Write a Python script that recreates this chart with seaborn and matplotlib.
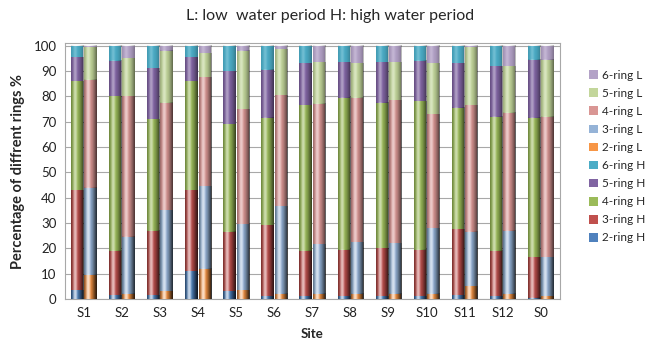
import numpy as np
import pandas as pd
import matplotlib
matplotlib.use("Agg")
import matplotlib.pyplot as plt
from matplotlib.patches import Patch
import seaborn as sns

sites = ["S1", "S2", "S3", "S4", "S5", "S6", "S7", "S8", "S9", "S10", "S11", "S12", "S0"]
rings = ["2-ring", "3-ring", "4-ring", "5-ring", "6-ring"]

# high water period (H), percentage per ring
h_2ring = [3.5, 1.5, 1.5, 11, 3, 1, 1, 1, 1, 1, 1.5, 1, 0.5]
h_3ring = [39.5, 17.5, 25.5, 32, 23.5, 28, 18, 18.5, 19, 18.5, 26, 18, 16]
h_4ring = [43, 61, 44, 43, 42.5, 42.5, 57.5, 60, 57.5, 58.5, 48, 53, 55]
h_5ring = [9.5, 14, 20, 9.5, 21, 19, 16.5, 14, 16, 16, 17.5, 20, 23]
h_6ring = [4.5, 6, 9, 4.5, 10, 9.5, 7, 6.5, 6.5, 6, 7, 8, 5.5]

# low water period (L), percentage per ring
l_2ring = [9.5, 2, 3, 12, 3.5, 2, 2, 2, 2, 2, 5, 2, 1]
l_3ring = [34.5, 22.5, 32, 32.5, 26, 34.5, 19.5, 20.5, 20, 26, 21.5, 25, 15.5]
l_4ring = [42.5, 55.5, 42.5, 43, 45.5, 44, 55.5, 57, 56.5, 45, 50, 46.5, 55.5]
l_5ring = [13, 15, 20.5, 9.5, 23, 18, 16.5, 13.5, 15, 20, 23, 18.5, 22.5]
l_6ring = [0.5, 5, 2, 3, 2, 1.5, 6.5, 7, 6.5, 7, 0.5, 8, 5.5]

colors_h = ["#4F81BD", "#C0504D", "#9BBB59", "#8064A2", "#4BACC6"]
colors_l = ["#F79646", "#95B3D7", "#D99694", "#C3D69B", "#B3A2C7"]

h_vals = [h_2ring, h_3ring, h_4ring, h_5ring, h_6ring]
l_vals = [l_2ring, l_3ring, l_4ring, l_5ring, l_6ring]

rows = []
for ri, ring in enumerate(rings):
    for si, s in enumerate(sites):
        rows.append({"site": s, "period": "H", "ring": ring, "order": ri, "value": h_vals[ri][si]})
        rows.append({"site": s, "period": "L", "ring": ring, "order": ri, "value": l_vals[ri][si]})
df = pd.DataFrame(rows).sort_values(["site", "period", "order"])
df["cum"] = df.groupby(["site", "period"])["value"].cumsum()

sns.set_theme(style="white")
plt.rcParams["font.family"] = ["Lato", "DejaVu Sans"]

fig = plt.figure(figsize=(6.54, 3.48), dpi=100)
ax = fig.add_axes([0.099, 0.141, 0.757, 0.735])

for ri in range(len(rings) - 1, -1, -1):
    sub = df[df["order"] == ri]
    sns.barplot(data=sub, x="site", y="cum", hue="period", order=sites,
                hue_order=["H", "L"],
                palette={"H": colors_h[ri], "L": colors_l[ri]},
                width=0.70, gap=0.08, dodge=True, ax=ax, legend=False,
                saturation=1, edgecolor="none", zorder=3)

# cylinder-like shading over every bar
t = np.linspace(0, 1, 64)
dark = np.zeros((1, t.size, 4))
dark[..., 3] = 0.30 * ((t - 0.38) / 0.62) ** 2
light = np.ones((1, t.size, 4))
light[..., 3] = 0.22 * np.exp(-((t - 0.32) / 0.14) ** 2)
for p in list(ax.patches):
    x0, y0 = p.get_x(), p.get_y()
    w, h = p.get_width(), p.get_height()
    if h <= 0:
        continue
    ext = [x0, x0 + w, y0, y0 + h]
    ax.imshow(dark, extent=ext, aspect="auto", zorder=4, interpolation="bilinear")
    ax.imshow(light, extent=ext, aspect="auto", zorder=4, interpolation="bilinear")

ax.set_ylim(0, 101)
ax.set_xlim(-0.5, len(sites) - 0.5)
ax.set_aspect("auto")
ax.set_yticks(np.arange(0, 101, 10))
ax.yaxis.grid(True, color="#a8a8a8", linewidth=0.8, zorder=0)
ax.set_axisbelow(True)
for sp in ax.spines.values():
    sp.set_color("#a8a8a8")
    sp.set_linewidth(0.8)
ax.tick_params(axis="both", length=0, labelsize=9.5, colors="#222222", pad=6)

ax.set_xlabel("Site", fontsize=9.5, fontweight="bold", labelpad=6)
ax.set_ylabel("Percentage of diffrent rings %", fontsize=10.5, fontweight="bold", labelpad=6)
fig.text(0.505, 0.955, "L: low  water period H: high water period", ha="center", va="center", fontsize=11.5)

handles = []
labels = []
for ri in range(len(rings) - 1, -1, -1):
    handles.append(Patch(facecolor=colors_l[ri], edgecolor="none"))
    labels.append(rings[ri] + " L")
for ri in range(len(rings) - 1, -1, -1):
    handles.append(Patch(facecolor=colors_h[ri], edgecolor="none"))
    labels.append(rings[ri] + " H")
fig.legend(handles, labels, loc="center left", bbox_to_anchor=(0.893, 0.55),
           frameon=False, fontsize=8.5, handlelength=0.75, handleheight=0.75,
           handletextpad=0.35, labelspacing=0.6, borderaxespad=0)

fig.savefig("out.png", dpi=100)
